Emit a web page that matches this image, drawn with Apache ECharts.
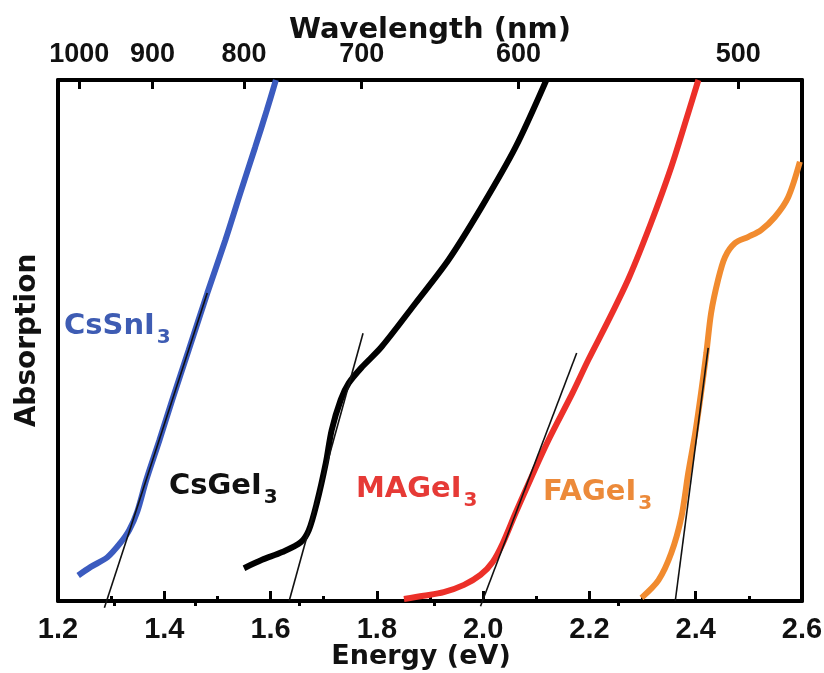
<!DOCTYPE html>
<html>
<head>
<meta charset="utf-8">
<script src="https://cdn.jsdelivr.net/npm/echarts@6/dist/echarts.min.js"></script>
<style>
  html, body { margin: 0; padding: 0; background: #fff; }
  #chart { width: 824px; height: 673px; }
</style>
</head>
<body>
<div id="chart"></div>
<script>
// energy (eV) / absorption (arb. units, 0-100)
const csSnI3 = [[1.238, 4.9], [1.261, 6.5], [1.293, 8.4], [1.317, 11.1], [1.334, 13.6], [1.349, 17.1],
  [1.366, 23.2], [1.391, 30.9], [1.415, 38.6], [1.446, 48.2], [1.481, 59.1], [1.515, 69.3],
  [1.543, 78.3], [1.571, 87.1], [1.593, 94.2], [1.610, 100]];
const csGeI3 = [[1.550, 6.3], [1.584, 7.9], [1.622, 9.4], [1.657, 11.3], [1.672, 13.6], [1.687, 18.8],
  [1.704, 26.5], [1.715, 32.8], [1.732, 38.6], [1.747, 41.8], [1.772, 44.9], [1.809, 48.8],
  [1.873, 57.2], [1.935, 65.5], [1.997, 75.6], [2.061, 87.1], [2.119, 100]];
const maGeI3 = [[1.851, 0.4], [1.888, 1.0], [1.926, 1.7], [1.964, 3.1], [1.995, 5.0], [2.018, 7.5],
  [2.037, 11.1], [2.061, 16.9], [2.091, 23.8], [2.123, 30.9], [2.168, 39.9], [2.198, 46.3],
  [2.236, 53.9], [2.275, 62.2], [2.316, 72.6], [2.354, 83.3], [2.386, 93.7], [2.405, 100]];
const faGeI3 = [[2.298, 0.6], [2.330, 4.0], [2.354, 9.2], [2.373, 16.1], [2.386, 24.6], [2.399, 32.2],
  [2.410, 39.9], [2.420, 47.6], [2.429, 55.3], [2.442, 61.6], [2.455, 66.0], [2.474, 68.7],
  [2.499, 69.9], [2.523, 71.2], [2.549, 73.7], [2.574, 77.5], [2.596, 84.3]];

// linear fits (band-gap extrapolation)
const fitCsSnI3 = [[1.2873, -1.3], [1.4808, 59.1]];
const fitCsGeI3 = [[1.635, 0], [1.774, 51.4]];
const fitMaGeI3 = [[1.995, -1.0], [2.176, 47.6]];
const fitFaGeI3 = [[2.3615, 0], [2.4235, 48.6]];

// top axis tick labels (nm)
const topWavelengths = [1000, 900, 800, 700, 600, 500];
const topMinorWavelengths = [950, 850, 750, 650, 550];

const chart = echarts.init(document.getElementById('chart'));

const black = '#000';
const tickFont = 'Liberation Sans, Arial, sans-serif';
const titleFont = 'DejaVu Sans, sans-serif';

function curve(data, color) {
  return {
    type: 'line',
    data: data,
    showSymbol: false,
    smooth: 0.3,
    lineStyle: { color: color, width: 6 },
    itemStyle: { color: color },
  };
}
function fit(data) {
  return {
    type: 'line',
    data: data,
    showSymbol: false,
    clip: false,
    lineStyle: { color: '#111', width: 1.6 },
    z: 5,
  };
}
function tag(name, color, left, top) {
  return {
    type: 'text',
    left: left,
    top: top,
    style: {
      text: '{m|' + name + '}{s|3}',
      rich: {
        m: { fontSize: 29, fontWeight: 'bold', fontFamily: titleFont, fill: color, lineHeight: 32 },
        s: { fontSize: 20, fontWeight: 'bold', fontFamily: titleFont, fill: color, padding: [22, 0, 0, 2] },
      },
    },
  };
}

const option = {
  animation: false,
  backgroundColor: '#fff',
  grid: { left: 58, right: 22, top: 80, bottom: 72, outerBoundsMode: 'none', containLabel: false },
  xAxis: [
    {
      type: 'value',
      min: 1.2,
      max: 2.6,
      interval: 0.2,
      position: 'bottom',
      name: 'Energy (eV)',
      nameLocation: 'middle',
      nameGap: 42,
      nameMoveOverlap: false,
      nameTextStyle: {
        fontSize: 27, fontWeight: 'bold', fontFamily: titleFont, color: '#111',
        padding: [0, 18, 0, 0],
      },
      axisLine: { show: true, onZero: false, lineStyle: { color: black, width: 4 } },
      axisTick: { show: true, inside: true, length: 10, lineStyle: { color: black, width: 3 } },
      minorTick: { show: true, splitNumber: 2, length: 5, lineStyle: { color: black, width: 3 } },
      axisLabel: {
        fontSize: 29, fontWeight: 'bold', fontFamily: tickFont, color: '#111', margin: 14,
        formatter: (v) => v.toFixed(1),
      },
      splitLine: { show: false },
    },
    {
      type: 'value',
      min: 1.2,
      max: 2.6,
      position: 'top',
      name: 'Wavelength (nm)',
      nameLocation: 'middle',
      nameGap: 35,
      nameMoveOverlap: false,
      nameTextStyle: { fontSize: 29, fontWeight: 'bold', fontFamily: titleFont, color: '#111' },
      axisLine: { show: true, onZero: false, lineStyle: { color: black, width: 4 } },
      axisTick: {
        show: true, inside: true, length: 9, lineStyle: { color: black, width: 3 },
        customValues: topWavelengths.map((w) => 1240 / w),
      },
      axisLabel: {
        fontSize: 27, fontWeight: 'bold', fontFamily: tickFont, color: '#111', margin: 12,
        customValues: topWavelengths.map((w) => 1240 / w),
        formatter: (v) => String(Math.round(1240 / v)),
      },
      splitLine: { show: false },
    },
    {
      type: 'value',
      min: 1.2,
      max: 2.6,
      position: 'top',
      axisLine: { show: false },
      axisTick: {
        show: true, inside: true, length: 5, lineStyle: { color: black, width: 3 },
        customValues: topMinorWavelengths.map((w) => 1240 / w),
      },
      axisLabel: { show: false },
      splitLine: { show: false },
    },
  ],
  yAxis: [
    {
      type: 'value',
      min: 0,
      max: 100,
      name: 'Absorption',
      nameLocation: 'middle',
      nameRotate: 90,
      nameGap: 16,
      nameMoveOverlap: false,
      nameTextStyle: { fontSize: 28, fontWeight: 'bold', fontFamily: titleFont, color: '#111' },
      axisLine: { show: true, onZero: false, lineStyle: { color: black, width: 4 } },
      axisTick: { show: false },
      axisLabel: { show: false },
      splitLine: { show: false },
    },
    {
      type: 'value',
      min: 0,
      max: 100,
      position: 'right',
      axisLine: { show: true, onZero: false, lineStyle: { color: black, width: 4 } },
      axisTick: { show: false },
      axisLabel: { show: false },
      splitLine: { show: false },
    },
  ],
  series: [
    curve(csSnI3, '#3b5bbf'),
    curve(csGeI3, '#000'),
    curve(maGeI3, '#ec3029'),
    curve(faGeI3, '#f18b2f'),
    fit(fitCsSnI3),
    fit(fitCsGeI3),
    fit(fitMaGeI3),
    fit(fitFaGeI3),
  ],
  graphic: [
    tag('CsSnI', '#3e5cb3', 64, 312),
    tag('CsGeI', '#111', 169, 472),
    tag('MAGeI', '#e63a36', 356, 475),
    tag('FAGeI', '#ec8a3a', 543, 478),
  ],
};

chart.setOption(option);
</script>
</body>
</html>
